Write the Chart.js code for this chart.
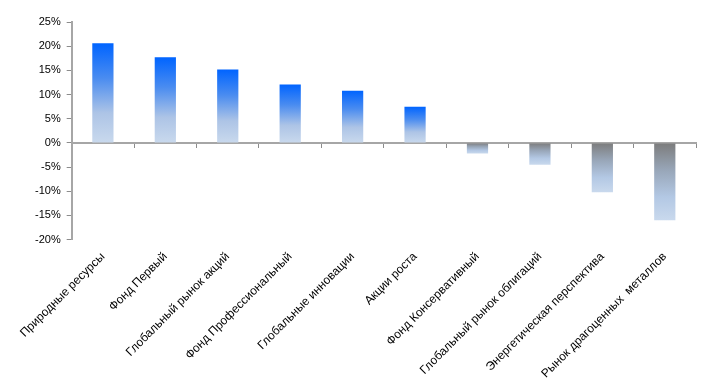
<!DOCTYPE html>
<html>
<head>
<meta charset="utf-8">
<script src="https://cdn.jsdelivr.net/npm/chart.js@4.4.1/dist/chart.umd.min.js"></script>
<style>
  html, body { margin: 0; padding: 0; background: #ffffff; }
  #wrap { width: 713px; height: 385px; }
</style>
</head>
<body>
<div id="wrap"><canvas id="fundChart" width="713" height="385"></canvas></div>
<script>
// fund names and yearly return, %
const funds = [
    "Природные ресурсы",
    "Фонд Первый",
    "Глобальный рынок акций",
    "Фонд Профессиональный",
    "Глобальные инновации",
    "Акции роста",
    "Фонд Консервативный",
    "Глобальный рынок облигаций",
    "Энергетическая перспектива",
    "Рынок драгоценных  металлов"
];
const returns = [20.6, 17.7, 15.2, 12.1, 10.8, 7.5, -2.2, -4.5, -10.2, -16.0];
const yTicks = [-20, -15, -10, -5, 0, 5, 10, 15, 20, 25];

const fontFamily = "'Liberation Sans', Arial, sans-serif";

// gradient from the bar end to the zero line, one per bar
function barFill(context) {
    const chart = context.chart;
    const yScale = chart.scales.y;
    if (!yScale || !chart.chartArea) return "#3f86f0";
    const v = context.raw;
    const yEnd = yScale.getPixelForValue(v);
    const yZero = yScale.getPixelForValue(0);
    if (yEnd === yZero) return "#c8d8ec";
    const g = chart.ctx.createLinearGradient(0, yEnd, 0, yZero);
    if (v >= 0) {
        g.addColorStop(0, "#0064ff");
        g.addColorStop(0.35, "#4a8cf0");
        g.addColorStop(0.7, "#adc4e6");
        g.addColorStop(1, "#c9d9ed");
    } else {
        // negative: gray at zero, light blue at the tip
        g.addColorStop(0, "#c9d9ed");
        g.addColorStop(0.3, "#b3c8e4");
        g.addColorStop(0.65, "#98a6b8");
        g.addColorStop(1, "#7c7c7c");
    }
    return g;
}

const ctx = document.getElementById("fundChart");
const fundChart = new Chart(ctx, {
    type: "bar",
    data: {
        labels: funds,
        datasets: [{
            data: returns,
            backgroundColor: barFill,
            borderWidth: 0,
            barPercentage: 0.68,
            categoryPercentage: 0.5,
            xAxisID: "x",
            yAxisID: "y"
        }]
    },
    options: {
        responsive: false,
        animation: false,
        devicePixelRatio: 1,
        layout: { padding: { top: 22, right: 17, bottom: 2, left: 29 } },
        plugins: {
            legend: { display: false },
            tooltip: { enabled: false }
        },
        scales: {
            // zero line with the category tick marks
            x: {
                type: "category",
                position: { y: 0 },
                offset: true,
                grid: {
                    offset: true,
                    drawOnChartArea: false,
                    drawTicks: true,
                    tickLength: 4,
                    color: "#8c8c8c",
                    lineWidth: 1
                },
                border: { display: true, color: "#a6a6a6", width: 2 },
                ticks: { display: false }
            },
            // labels along the bottom
            x2: {
                type: "category",
                position: "bottom",
                labels: funds,
                offset: true,
                grid: { display: false },
                border: { display: false },
                ticks: {
                    autoSkip: false,
                    maxRotation: 45,
                    minRotation: 45,
                    padding: 2,
                    color: "#000000",
                    font: { family: fontFamily, size: 12 }
                }
            },
            y: {
                min: -20,
                max: 25,
                afterBuildTicks: (axis) => {
                    axis.ticks = yTicks.map(v => ({ value: v }));
                },
                grid: {
                    drawOnChartArea: false,
                    drawTicks: true,
                    tickLength: 5,
                    color: "#8c8c8c"
                },
                border: { display: true, color: "#a6a6a6", width: 2 },
                ticks: {
                    padding: 6,
                    color: "#000000",
                    font: { family: fontFamily, size: 11 },
                    callback: (v) => v + "%"
                }
            }
        }
    }
});
</script>
</body>
</html>
